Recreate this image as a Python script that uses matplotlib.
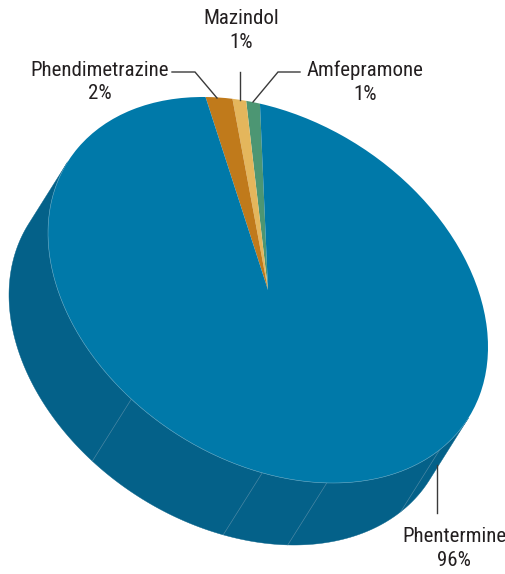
import numpy as np
import matplotlib
matplotlib.use("Agg")
import matplotlib.pyplot as plt
from matplotlib import font_manager as fm
from matplotlib.transforms import Affine2D

# Data
labels = ["Amfepramone", "Mazindol", "Phendimetrazine", "Phentermine"]
shares = [1, 1, 2, 96]
colors = ["#4C9673", "#E4B65C", "#C07A1B", "#0079A9"]
side_color = "#046189"
seam_angles = [231.6, 268.5, 285.5, 321.3]
start_angle = 92.1

# Projection of the tilted disc, in pixels
cx, cy = 268, 290
m = np.array([[220.0, 0.0], [57.0, -184.4]])
depth = np.array([-39.0, 62.0])

available = {f.name for f in fm.fontManager.ttflist}
narrow = [n for n in ["Liberation Sans Narrow", "Roboto Condensed", "Open Sans Condensed"] if n in available]
font = narrow[0] if narrow else "Roboto"
plt.rcParams["font.family"] = [font, "DejaVu Sans"]
fig = plt.figure(figsize=(5.06, 5.74), dpi=100)
ax = fig.add_axes([0, 0, 1, 1])


def rim(deg):
    a = np.radians(deg)
    p = m @ np.vstack([np.cos(a), np.sin(a)])
    return p[0] + cx, p[1] + cy


# Side wall between the two tangent points
d = np.linalg.solve(m, depth)
t0 = np.degrees(np.arctan2(d[1], d[0]))
arc = np.linspace(t0 - 90, t0 + 90, 400)
x, y = rim(arc)
ax.fill(np.r_[x, x[::-1] + depth[0]], np.r_[y, y[::-1] + depth[1]],
        color=side_color, lw=0.3, zorder=1)
sx, sy = rim(np.array(seam_angles))
for a, b in zip(sx, sy):
    ax.plot([a, a + depth[0]], [b, b + depth[1]], color="#4F8AA6", lw=0.45, zorder=2)

# Top face
wedges, _ = ax.pie(shares, colors=colors, startangle=start_angle, radius=1,
                   wedgeprops=dict(linewidth=0), frame=False)
ax.set_aspect("auto")
ax.set_xlim(0, 506)
ax.set_ylim(574, 0)
ax.axis("off")
tr = Affine2D.from_values(m[0, 0], m[1, 0], m[0, 1], m[1, 1], cx, cy) + ax.transData
for w in wedges:
    w.set_transform(tr)
    w.set_zorder(3)
ax.plot(x, y, color="#5FA5C2", lw=0.4, zorder=4)

# Leaders
line = dict(color="#3a3a3a", lw=1.0, zorder=5, solid_joinstyle="miter")
ax.plot([172, 195, 217], [72, 72, 98], **line)
ax.plot([240, 240], [72, 100], **line)
ax.plot([300, 278, 253], [72, 72, 102], **line)
ax.plot([437, 437], [465, 513], **line)

# Labels
size = 15.0
txt = dict(ha="center", va="center", fontsize=size, color="#231F20",
           linespacing=1.3, zorder=6)
ax.text(100, 82, f"{labels[2]}\n{shares[2]}%", **txt)
ax.text(241, 30.5, f"{labels[1]}\n{shares[1]}%", **txt)
ax.text(365, 82, f"{labels[0]}\n{shares[0]}%", **txt)
ax.text(454, 548.5, f"{labels[3]}\n{shares[3]}%", **txt)

fig.savefig("out.png", dpi=100)
